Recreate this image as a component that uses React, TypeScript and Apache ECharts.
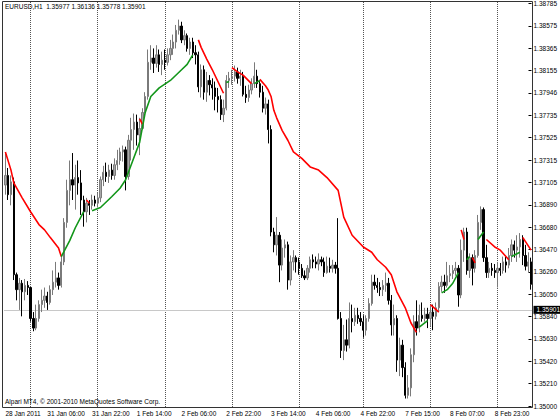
import React, { useEffect, useRef } from "react";
import * as echarts from "echarts";

// ---- OHLC data (EURUSD H1) ----
const barOpen = [
  1.3707, 1.3716, 1.3698, 1.3710, 1.3623, 1.3609, 1.3615, 1.3607, 1.3613, 1.3611,
  1.3582, 1.3573, 1.3582, 1.3595, 1.3599, 1.3603, 1.3597, 1.3609, 1.3616, 1.3620,
  1.3613, 1.3635, 1.3672, 1.3702, 1.3712, 1.3707, 1.3714, 1.3709, 1.3693, 1.3682,
  1.3690, 1.3688, 1.3693, 1.3690, 1.3695, 1.3712, 1.3719, 1.3715, 1.3721, 1.3716,
  1.3726, 1.3730, 1.3738, 1.3740, 1.3715, 1.3749, 1.3759, 1.3766, 1.3754, 1.3760,
  1.3775, 1.3790, 1.3822, 1.3826, 1.3821, 1.3829, 1.3820, 1.3824, 1.3822, 1.3829,
  1.3835, 1.3841, 1.3852, 1.3856, 1.3843, 1.3847, 1.3835, 1.3841, 1.3831, 1.3829,
  1.3799, 1.3815, 1.3794, 1.3805, 1.3801, 1.3798, 1.3790, 1.3787, 1.3773, 1.3779,
  1.3805, 1.3807, 1.3809, 1.3813, 1.3807, 1.3809, 1.3792, 1.3789, 1.3796, 1.3802,
  1.3809, 1.3802, 1.3794, 1.3779, 1.3783, 1.3759, 1.3663, 1.3651, 1.3660, 1.3632,
  1.3648, 1.3651, 1.3618, 1.3635, 1.3639, 1.3635, 1.3629, 1.3622, 1.3620, 1.3629,
  1.3637, 1.3635, 1.3633, 1.3637, 1.3635, 1.3625, 1.3631, 1.3629, 1.3632, 1.3629,
  1.3582, 1.3552, 1.3562, 1.3557, 1.3582, 1.3579, 1.3585, 1.3582, 1.3579, 1.3571,
  1.3582, 1.3596, 1.3616, 1.3613, 1.3611, 1.3609, 1.3613, 1.3615, 1.3599, 1.3576,
  1.3582, 1.3543, 1.3557, 1.3536, 1.3510, 1.3517, 1.3548, 1.3579, 1.3573, 1.3585,
  1.3582, 1.3586, 1.3582, 1.3588, 1.3584, 1.3592, 1.3612, 1.3616, 1.3613, 1.3622,
  1.3624, 1.3627, 1.3629, 1.3604, 1.3646, 1.3663, 1.3627, 1.3639, 1.3629, 1.3641,
  1.3672, 1.3684, 1.3639, 1.3625, 1.3629, 1.3627, 1.3625, 1.3629, 1.3627, 1.3635,
  1.3632, 1.3641, 1.3651, 1.3646, 1.3649, 1.3656, 1.3641, 1.3631, 1.3635,
];
const barClose = [
  1.3716, 1.3698, 1.3710, 1.3623, 1.3609, 1.3615, 1.3607, 1.3613, 1.3611, 1.3582,
  1.3573, 1.3582, 1.3595, 1.3599, 1.3603, 1.3597, 1.3609, 1.3616, 1.3620, 1.3613,
  1.3635, 1.3672, 1.3702, 1.3712, 1.3707, 1.3714, 1.3709, 1.3693, 1.3682, 1.3690,
  1.3688, 1.3693, 1.3690, 1.3695, 1.3712, 1.3719, 1.3715, 1.3721, 1.3716, 1.3726,
  1.3730, 1.3738, 1.3740, 1.3715, 1.3749, 1.3759, 1.3766, 1.3754, 1.3760, 1.3775,
  1.3790, 1.3822, 1.3826, 1.3821, 1.3829, 1.3820, 1.3824, 1.3822, 1.3829, 1.3835,
  1.3841, 1.3852, 1.3856, 1.3843, 1.3847, 1.3835, 1.3841, 1.3831, 1.3829, 1.3799,
  1.3815, 1.3794, 1.3805, 1.3801, 1.3798, 1.3790, 1.3787, 1.3773, 1.3779, 1.3805,
  1.3807, 1.3809, 1.3813, 1.3807, 1.3809, 1.3792, 1.3789, 1.3796, 1.3802, 1.3809,
  1.3802, 1.3794, 1.3779, 1.3783, 1.3759, 1.3663, 1.3651, 1.3660, 1.3632, 1.3648,
  1.3651, 1.3618, 1.3635, 1.3639, 1.3635, 1.3629, 1.3622, 1.3620, 1.3629, 1.3637,
  1.3635, 1.3633, 1.3637, 1.3635, 1.3625, 1.3631, 1.3629, 1.3632, 1.3629, 1.3582,
  1.3552, 1.3562, 1.3557, 1.3582, 1.3579, 1.3585, 1.3582, 1.3579, 1.3571, 1.3582,
  1.3596, 1.3616, 1.3613, 1.3611, 1.3609, 1.3613, 1.3615, 1.3599, 1.3576, 1.3582,
  1.3543, 1.3557, 1.3536, 1.3510, 1.3517, 1.3548, 1.3579, 1.3573, 1.3585, 1.3582,
  1.3586, 1.3582, 1.3588, 1.3584, 1.3592, 1.3612, 1.3616, 1.3613, 1.3622, 1.3624,
  1.3627, 1.3629, 1.3604, 1.3646, 1.3663, 1.3627, 1.3639, 1.3629, 1.3641, 1.3672,
  1.3684, 1.3639, 1.3625, 1.3629, 1.3627, 1.3625, 1.3629, 1.3627, 1.3635, 1.3632,
  1.3641, 1.3651, 1.3646, 1.3649, 1.3656, 1.3641, 1.3631, 1.3635, 1.3614,
];
const barLow = [
  1.3698, 1.3693, 1.3688, 1.3618, 1.3599, 1.3590, 1.3584, 1.3599, 1.3604, 1.3579,
  1.3570, 1.3571, 1.3579, 1.3588, 1.3592, 1.3590, 1.3595, 1.3604, 1.3611, 1.3609,
  1.3611, 1.3632, 1.3667, 1.3688, 1.3693, 1.3684, 1.3698, 1.3679, 1.3668, 1.3672,
  1.3679, 1.3684, 1.3687, 1.3686, 1.3691, 1.3706, 1.3710, 1.3709, 1.3712, 1.3712,
  1.3721, 1.3726, 1.3729, 1.3702, 1.3712, 1.3730, 1.3740, 1.3744, 1.3735, 1.3759,
  1.3774, 1.3787, 1.3815, 1.3812, 1.3817, 1.3813, 1.3810, 1.3815, 1.3819, 1.3824,
  1.3829, 1.3835, 1.3848, 1.3840, 1.3838, 1.3832, 1.3829, 1.3826, 1.3820, 1.3794,
  1.3789, 1.3787, 1.3785, 1.3791, 1.3787, 1.3777, 1.3775, 1.3768, 1.3766, 1.3777,
  1.3798, 1.3801, 1.3804, 1.3802, 1.3800, 1.3790, 1.3784, 1.3785, 1.3792, 1.3798,
  1.3798, 1.3789, 1.3775, 1.3773, 1.3746, 1.3659, 1.3644, 1.3641, 1.3616, 1.3627,
  1.3639, 1.3609, 1.3613, 1.3627, 1.3625, 1.3623, 1.3620, 1.3618, 1.3618, 1.3625,
  1.3629, 1.3629, 1.3627, 1.3631, 1.3621, 1.3624, 1.3625, 1.3625, 1.3624, 1.3581,
  1.3545, 1.3543, 1.3551, 1.3554, 1.3569, 1.3575, 1.3577, 1.3575, 1.3564, 1.3566,
  1.3579, 1.3594, 1.3609, 1.3606, 1.3603, 1.3603, 1.3607, 1.3595, 1.3566, 1.3566,
  1.3532, 1.3528, 1.3527, 1.3507, 1.3507, 1.3509, 1.3541, 1.3566, 1.3569, 1.3579,
  1.3579, 1.3573, 1.3575, 1.3571, 1.3581, 1.3588, 1.3607, 1.3606, 1.3611, 1.3616,
  1.3619, 1.3622, 1.3593, 1.3601, 1.3635, 1.3623, 1.3620, 1.3613, 1.3625, 1.3639,
  1.3665, 1.3635, 1.3620, 1.3620, 1.3622, 1.3620, 1.3611, 1.3622, 1.3624, 1.3625,
  1.3629, 1.3635, 1.3639, 1.3635, 1.3639, 1.3632, 1.3627, 1.3625, 1.3609,
];
const barHigh = [
  1.3737, 1.3723, 1.3716, 1.3714, 1.3625, 1.3620, 1.3618, 1.3619, 1.3617, 1.3611,
  1.3588, 1.3595, 1.3599, 1.3609, 1.3611, 1.3607, 1.3613, 1.3627, 1.3635, 1.3625,
  1.3641, 1.3676, 1.3712, 1.3730, 1.3737, 1.3726, 1.3730, 1.3721, 1.3697, 1.3695,
  1.3693, 1.3698, 1.3697, 1.3700, 1.3715, 1.3725, 1.3728, 1.3726, 1.3727, 1.3732,
  1.3740, 1.3742, 1.3744, 1.3743, 1.3754, 1.3770, 1.3774, 1.3773, 1.3770, 1.3779,
  1.3794, 1.3834, 1.3838, 1.3835, 1.3838, 1.3834, 1.3832, 1.3834, 1.3835, 1.3843,
  1.3848, 1.3857, 1.3862, 1.3860, 1.3852, 1.3849, 1.3845, 1.3845, 1.3838, 1.3832,
  1.3820, 1.3819, 1.3813, 1.3810, 1.3807, 1.3804, 1.3798, 1.3791, 1.3787, 1.3810,
  1.3813, 1.3815, 1.3819, 1.3817, 1.3815, 1.3813, 1.3800, 1.3801, 1.3807, 1.3822,
  1.3815, 1.3805, 1.3800, 1.3789, 1.3787, 1.3763, 1.3667, 1.3677, 1.3663, 1.3656,
  1.3656, 1.3654, 1.3641, 1.3646, 1.3641, 1.3639, 1.3633, 1.3627, 1.3632, 1.3640,
  1.3642, 1.3640, 1.3643, 1.3640, 1.3639, 1.3640, 1.3639, 1.3637, 1.3635, 1.3676,
  1.3588, 1.3576, 1.3581, 1.3597, 1.3595, 1.3592, 1.3592, 1.3588, 1.3585, 1.3585,
  1.3601, 1.3623, 1.3623, 1.3620, 1.3616, 1.3618, 1.3625, 1.3620, 1.3604, 1.3595,
  1.3585, 1.3564, 1.3562, 1.3541, 1.3529, 1.3554, 1.3585, 1.3599, 1.3595, 1.3597,
  1.3592, 1.3592, 1.3594, 1.3595, 1.3597, 1.3616, 1.3622, 1.3623, 1.3635, 1.3632,
  1.3632, 1.3635, 1.3632, 1.3656, 1.3667, 1.3667, 1.3643, 1.3642, 1.3646, 1.3679,
  1.3687, 1.3686, 1.3651, 1.3635, 1.3634, 1.3633, 1.3635, 1.3634, 1.3640, 1.3640,
  1.3648, 1.3656, 1.3655, 1.3660, 1.3662, 1.3660, 1.3651, 1.3644, 1.3639,
];

// ---- coloured moving-average line, pieces as [barIndex, price] ----
const maRedSegments = [
  [[0, 1.3738], [2, 1.3721], [3, 1.3709], [6, 1.3695], [9, 1.3682], [12, 1.367], [14, 1.3665], [16, 1.3658], [19, 1.3648], [20, 1.364]],
  [[29, 1.3693], [30, 1.369]],
  [[48, 1.3769], [49, 1.3764]],
  [[69, 1.3843], [70, 1.3836], [72, 1.3825], [74, 1.3815], [76, 1.3804], [78, 1.3793]],
  [[81, 1.3817], [83, 1.3813], [85, 1.381], [88, 1.3802]],
  [[91, 1.3806], [93, 1.38], [94, 1.3796], [95, 1.379], [96, 1.3777], [97, 1.377], [99, 1.3758], [101, 1.3749], [103, 1.3738], [106, 1.3732], [109, 1.3724], [112, 1.3721], [115, 1.3714], [119, 1.3702], [121, 1.3677], [124, 1.366], [128, 1.3649], [131, 1.3644], [133, 1.3637], [136, 1.363], [138, 1.3623], [140, 1.3607], [143, 1.3592], [145, 1.3578], [147, 1.3569]],
  [[152, 1.3595], [155, 1.3588]],
  [[163, 1.3665], [164, 1.3656]],
  [[167, 1.3639], [168, 1.3634]],
  [[172, 1.3656], [175, 1.3649], [177, 1.3646], [179, 1.364], [180, 1.3637]],
  [[185, 1.3658], [188, 1.3646]],
];
const maGreenSegments = [
  [[20, 1.364], [23, 1.3655], [25, 1.3667], [28, 1.3682]],
  [[31, 1.3683], [34, 1.3686], [38, 1.3696], [41, 1.3704], [43, 1.3712], [46, 1.3733], [48, 1.3747], [50, 1.3775], [52, 1.379], [55, 1.3798], [59, 1.3805], [63, 1.3815], [65, 1.382], [67, 1.3829]],
  [[79, 1.3803], [80, 1.3804]],
  [[89, 1.3802], [91, 1.3805]],
  [[148, 1.3574], [151, 1.358]],
  [[156, 1.3606], [158, 1.3609], [160, 1.3615], [162, 1.3625]],
  [[165, 1.3637], [166, 1.364]],
  [[169, 1.3656], [171, 1.3663]],
  [[181, 1.364], [184, 1.3644]],
];

// ---- axes ----
const yTickLabels = [
  "1.35000", "1.35210", "1.35420", "1.35630", "1.35840", "1.36050", "1.36260",
  "1.36470", "1.36680", "1.36890", "1.37105", "1.37315", "1.37525", "1.37735",
  "1.37946", "1.38155", "1.38365", "1.38575", "1.38785",
];
const xTickIndex = [0, 15, 31, 47, 63, 79, 95, 111, 127, 143, 159, 175];
const xTickLabel = [
  "28 Jan 2011", "31 Jan 06:00", "31 Jan 22:00", "1 Feb 14:00", "2 Feb 06:00",
  "2 Feb 22:00", "3 Feb 14:00", "4 Feb 06:00", "4 Feb 22:00", "7 Feb 15:00",
  "8 Feb 07:00", "8 Feb 23:00",
];
const dayStartIndex = [9, 33, 57, 81, 105, 128, 152, 176];

const symbolName = "EURUSD,H1";
const lastBarOHLC = ["1.35977", "1.36136", "1.35778", "1.35901"];
const bidPrice = 1.35901;
const copyrightText = "Alpari MT4, \u00a9 2001-2010 MetaQuotes Software Corp.";

export default function App() {
  const ref = useRef<HTMLDivElement>(null);

  useEffect(() => {
    if (!ref.current) return;
    const chart = echarts.init(ref.current, null, { renderer: "svg" });
    const font = "'Liberation Sans', Arial, sans-serif";
    const fs = 6.5;
    const categories = barOpen.map((_, i) => String(i));
    const candles = barOpen.map((o, i) => [o, barClose[i], barLow[i], barHigh[i]]);

    const lineSeries: any[] = [];
    maRedSegments.forEach((seg) =>
      lineSeries.push({
        type: "line", data: seg, symbol: "none", silent: true, z: 4,
        lineStyle: { color: "#ff0000", width: 1.6 },
      })
    );
    maGreenSegments.forEach((seg) =>
      lineSeries.push({
        type: "line", data: seg, symbol: "none", silent: true, z: 4,
        lineStyle: { color: "#12961a", width: 1.6 },
      })
    );

    chart.setOption({
      animation: false,
      backgroundColor: "#ffffff",
      textStyle: { fontFamily: font },
      grid: [
        { left: 4, right: 27.5, top: 1, bottom: 13 },
        { left: 4, right: 27.5, top: 2, bottom: 14 },
      ],
      xAxis: [
        {
          type: "category", gridIndex: 0, data: categories, boundaryGap: true,
          axisLine: { show: false }, axisTick: { show: false }, splitLine: { show: false },
          axisLabel: {
            show: true,
            interval: (idx: number) => xTickIndex.includes(idx),
            formatter: (_v: string, idx: number) => xTickLabel[xTickIndex.indexOf(idx)] ?? "",
            align: "left", fontSize: fs, color: "#000", margin: 3, fontFamily: font,
          },
        },
        { type: "category", gridIndex: 1, data: categories, show: false },
      ],
      yAxis: [
        { type: "value", gridIndex: 0, min: 1.349906, max: 1.387944, show: false, scale: true },
        {
          type: "category", gridIndex: 1, data: yTickLabels, boundaryGap: false, position: "right",
          axisLine: { show: false },
          axisTick: { show: true, length: 3, interval: 0, lineStyle: { color: "#000" } },
          axisLabel: { interval: 0, fontSize: fs, color: "#000", margin: 5, fontFamily: font },
          splitLine: { show: false },
        },
      ],
      series: [
        {
          type: "candlestick", data: candles, barWidth: 1.8, z: 2,
          itemStyle: {
            color: "#a8a8a8", color0: "#000000",
            borderColor: "#7a7a7a", borderColor0: "#000000", borderWidth: 1,
          },
          markLine: {
            silent: true, symbol: ["none", "none"], animation: false, z: 1,
            precision: 5,
            label: { show: false },
            lineStyle: { type: "dotted", color: "#555555", width: 1 },
            data: [
              ...dayStartIndex.map((d) => ({ xAxis: d })),
              {
                yAxis: bidPrice,
                lineStyle: { type: "solid", color: "#c8c8c8", width: 1 },
                label: {
                  show: true, position: "end", distance: 1, formatter: lastBarOHLC[3],
                  backgroundColor: "#000", color: "#fff", fontSize: fs,
                  padding: [1, 3, 0, 3], fontFamily: font,
                },
              },
            ],
          },
        },
        ...lineSeries,
      ],
      graphic: [
        {
          type: "rect", silent: true, z: 10,
          shape: { x: 2.5, y: 1.5, width: 530, height: 406 },
          style: { fill: "none", stroke: "#333", lineWidth: 1 },
        },
        {
          type: "text", left: 5, top: 3, silent: true, z: 11,
          style: {
            text: symbolName + "  " + lastBarOHLC.join(" "),
            fill: "#000", font: `${fs}px ${font}`,
          },
        },
        {
          type: "text", left: 5, top: 398, silent: true, z: 11,
          style: { text: copyrightText, fill: "#000", font: `${fs}px ${font}` },
        },
      ],
    });
    return () => chart.dispose();
  }, []);

  return (
    <div
      ref={ref}
      style={{ position: "fixed", left: 0, top: 0, width: 560, height: 420, background: "#fff" }}
    />
  );
}
